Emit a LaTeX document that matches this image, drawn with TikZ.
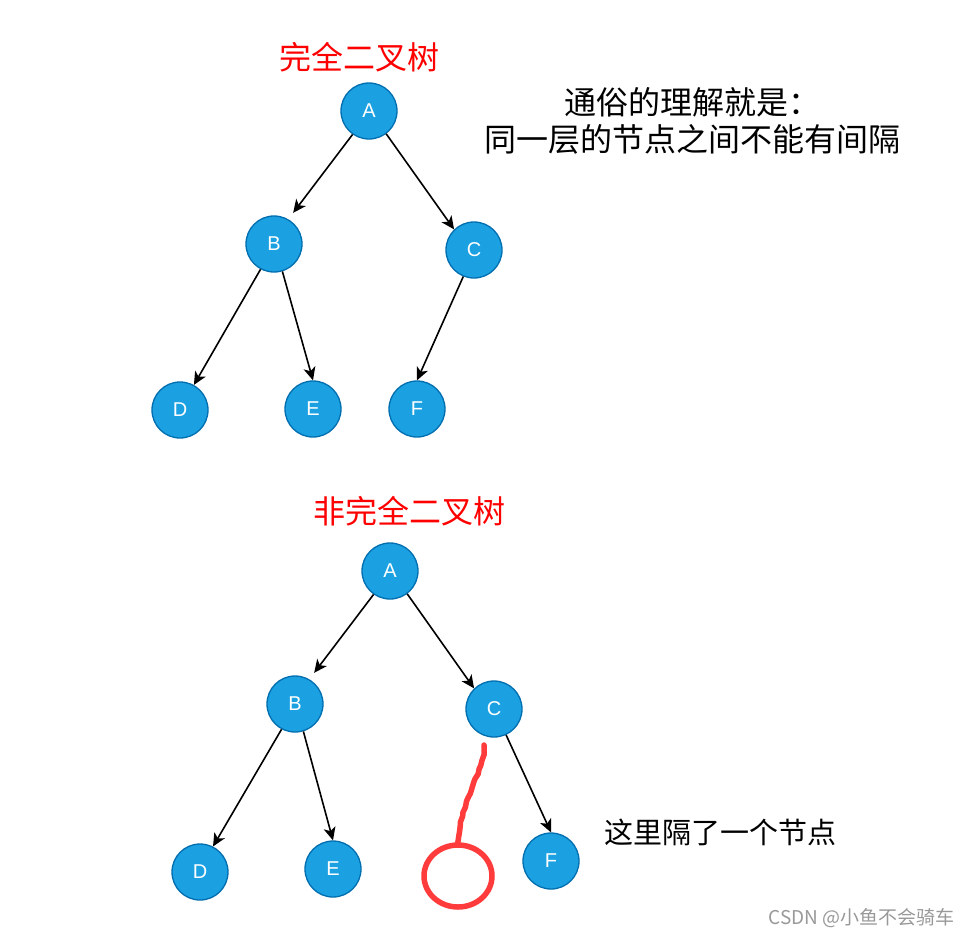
\documentclass[tikz,border=0pt]{standalone}
\usepackage{fontspec}
\setmainfont{Liberation Sans}
\newfontfamily\cjk{Noto Sans CJK SC}
\usetikzlibrary{arrows.meta, positioning, shapes.geometric, decorations.pathmorphing}
\definecolor{nodeblue}{HTML}{1BA1E2}
\definecolor{nodeedge}{HTML}{006EAF}
\definecolor{markred}{HTML}{FF3B3B}

\begin{document}
\begin{tikzpicture}[
      x=1pt, y=-1pt, on grid,
      tnode/.style={circle, draw=nodeedge, line width=1.3pt, fill=nodeblue, minimum size=56pt, inner sep=0pt, text=white, font=\fontsize{20}{24}\selectfont},
      title/.style={text=red, font=\cjk\fontsize{32}{37}\selectfont},
      note/.style={align=center, font=\cjk\fontsize{32}{37}\selectfont},
      arrow/.style={-{Stealth[length=13pt, width=12pt, inset=3.5pt]}, line width=1.6pt},
      redmark/.style={draw=markred, line width=5.5pt, line cap=round}
    ]
    \useasboundingbox (0,0) rectangle (974,938);

    \node[title] (title1) at (359,57) {完全二叉树};
    \node[note] (rule) at (692,121) {通俗的理解就是：\\同一层的节点之间不能有间隔};

    \node[tnode] (A) at (369,111) {A};
    \node[tnode, below left=133pt and 95pt of A] (B) {B};
    \node[tnode, below right=139pt and 105pt of A] (C) {C};
    \node[tnode, below left=166pt and 94pt of B] (D) {D};
    \node[tnode, below right=165pt and 39pt of B] (E) {E};
    \node[tnode, below left=159pt and 57pt of C] (F) {F};

    \draw[arrow, shorten >=8pt] (A.-125) -- (B.60);
    \draw[arrow] (A.-53) -- (C.134);
    \draw[arrow] (B.-118) -- (D.61);
    \draw[arrow] (B.-73) -- (E.north);
    \draw[arrow] (C.-112) -- (F.north);

    \node[title] (title2) at (409,511) {非完全二叉树};

    \node[tnode] (A2) at (390,571) {A};
    \node[tnode, below left=133pt and 95pt of A2] (B2) {B};
    \node[tnode, below right=138pt and 104pt of A2] (C2) {C};
    \node[tnode, below left=168pt and 95pt of B2] (D2) {D};
    \node[tnode, below right=165pt and 38pt of B2] (E2) {E};
    \node[tnode, below right=152pt and 57pt of C2] (F2) {F};
    \node[ellipse, redmark, minimum width=68pt, minimum height=62pt, below left=167pt and 36pt of C2] (gap) {};
    \coordinate[below left=36pt and 10pt of C2] (squig);

    \draw[arrow, shorten >=8pt] (A2.-125) -- (B2.60);
    \draw[arrow] (A2.-53) -- (C2.134);
    \draw[arrow] (B2.-118) -- (D2.63);
    \draw[arrow] (B2.-73) -- (E2.north);
    \draw[arrow] (C2.-65) -- (F2.north);
    \draw[redmark, decorate, decoration={random steps, segment length=5pt, amplitude=1pt}]
      (squig) .. controls +(-1,30) and +(3,-45) .. (gap.north);

    \node[font=\cjk\fontsize{29}{34}\selectfont] (gaptext) at (720,832) {这里隔了一个节点};
    \node[anchor=east, text=black!40, font=\cjk\fontsize{19}{22}\selectfont] (mark) at (958,918) {CSDN @小鱼不会骑车};
  \end{tikzpicture}
\end{document}
